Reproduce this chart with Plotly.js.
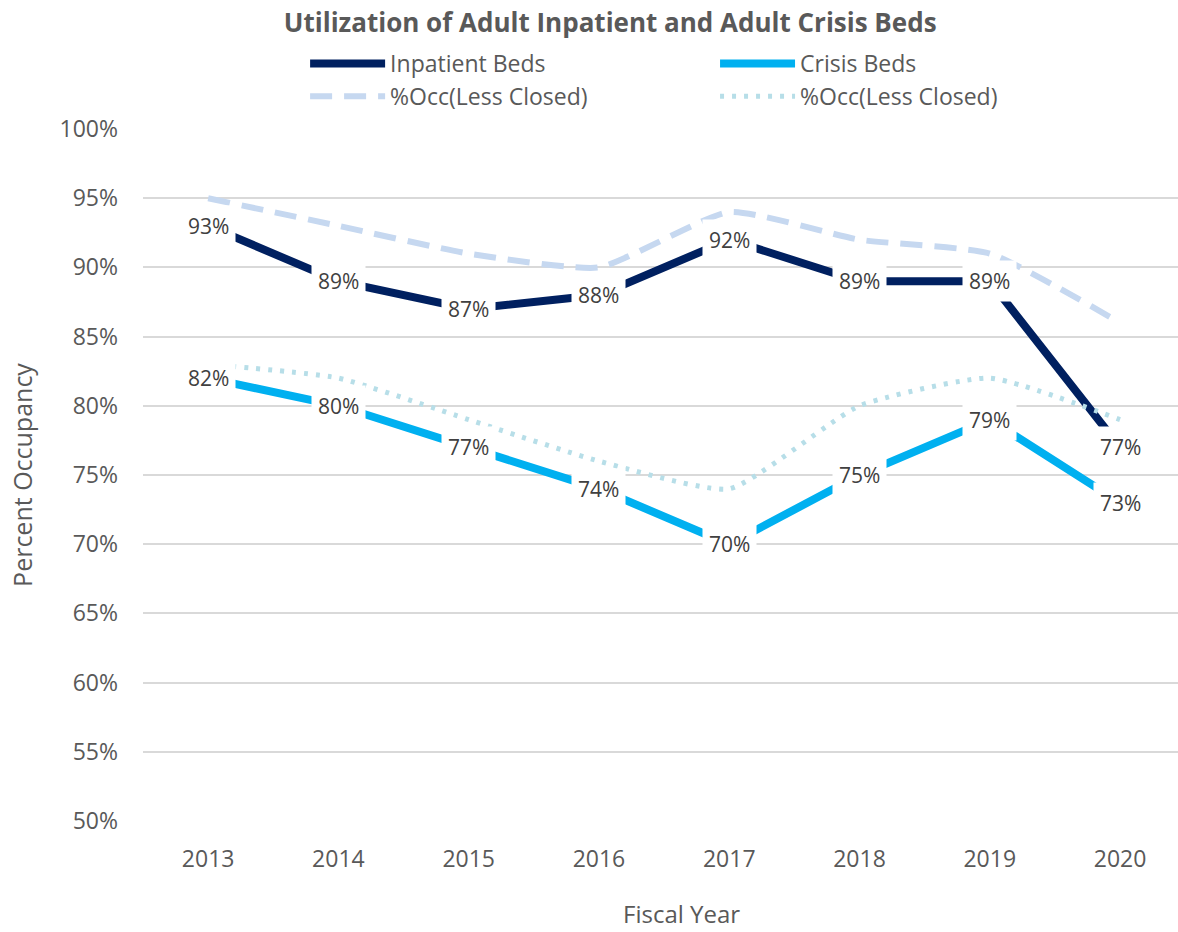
<!DOCTYPE html>
<html>
<head>
<meta charset="utf-8">
<script src="https://cdn.plot.ly/plotly-3.0.1.min.js"></script>
<style>html,body{margin:0;padding:0;background:#fff;}#chart{width:1178px;height:932px;}</style>
</head>
<body>
<div id="chart"></div>
<script>
const years = ["2013","2014","2015","2016","2017","2018","2019","2020"];
const inpatientBeds = [93, 89, 87, 88, 92, 89, 89, 77];
const inpatientOccLessClosed = [95, 93, 91, 90, 94, 92, 91, 86];
const crisisBeds = [82, 80, 77, 74, 70, 75, 79, 73];
const crisisOccLessClosed = [83, 82, 79, 76, 74, 80, 82, 79];
const yTicks = [50, 55, 60, 65, 70, 75, 80, 85, 90, 95, 100];
const xTitle = "Fiscal Year";
const yTitle = "Percent Occupancy";

const FONT = "Open Sans, Noto Sans, sans-serif";

const traces = [
  {x: years, y: inpatientBeds, name: "Inpatient Beds", type: "scatter", mode: "lines",
   legend: "legend", line: {color: "#002060", width: 8}},
  {x: years, y: crisisBeds, name: "Crisis Beds", type: "scatter", mode: "lines",
   legend: "legend2", line: {color: "#00B0F0", width: 8}},
  {x: years, y: inpatientOccLessClosed, name: "%Occ(Less Closed)", type: "scatter", mode: "lines",
   legend: "legend", line: {color: "#C6D8F0", width: 6, dash: "22px,12px", shape: "spline", smoothing: 0.5}},
  {x: years, y: crisisOccLessClosed, name: "%Occ(Less Closed)", type: "scatter", mode: "lines",
   legend: "legend2", line: {color: "#B7DEE8", width: 5, dash: "4px,8px", shape: "spline", smoothing: 0.5}}
];

const annotations = [];
[inpatientBeds, crisisBeds].forEach(series => {
  series.forEach((v, i) => {
    annotations.push({x: i, y: v, xref: "x", yref: "y", text: v + "%", showarrow: false,
      bgcolor: "#ffffff", borderpad: 6, font: {family: FONT, size: 21, color: "#404040"}});
  });
});
// axis titles
annotations.push({text: yTitle, xref: "paper", yref: "paper", x: -0.117, y: 0.5, xanchor: "center", yanchor: "middle",
  textangle: -90, showarrow: false, font: {family: FONT, size: 25, color: "#595959"}});
annotations.push({text: xTitle, xref: "paper", yref: "paper", x: 0.52, y: -0.133, xanchor: "center", yanchor: "middle",
  showarrow: false, font: {family: FONT, size: 24, color: "#595959"}});

const legendBase = {orientation: "v", xref: "container", yref: "container", xanchor: "left", yanchor: "top",
  y: 0.955, itemwidth: 75, traceorder: "normal", bgcolor: "rgba(0,0,0,0)", borderwidth: 0,
  font: {family: FONT, size: 23, color: "#595959"}};

const layout = {
  width: 1178, height: 932,
  margin: {l: 143, r: 0, t: 129, b: 111, autoexpand: false},
  paper_bgcolor: "#ffffff", plot_bgcolor: "#ffffff",
  font: {family: FONT, color: "#595959"},
  title: {text: "<b>Utilization of Adult Inpatient and Adult Crisis Beds</b>", x: 0.518, xanchor: "center",
          y: 0.975, yanchor: "middle", font: {family: FONT, size: 26, color: "#595959"}},
  showlegend: true,
  legend: Object.assign({}, legendBase, {x: 0.259}),
  legend2: Object.assign({}, legendBase, {x: 0.607}),
  xaxis: {type: "category", range: [-0.5, 7.445], showgrid: false, zeroline: false, showline: false,
          automargin: false, tickangle: 0,
          ticks: "", tickfont: {family: FONT, size: 23, color: "#595959"}, ticklabelstandoff: 22},
  yaxis: {range: [50, 100], tickvals: yTicks, ticktext: yTicks.map(v => v + "%"), automargin: false,
          showgrid: true, gridcolor: "#D9D9D9", gridwidth: 1.5, zeroline: false, showline: false,
          ticks: "", tickfont: {family: FONT, size: 23, color: "#595959"}, ticklabelstandoff: 24},
  annotations: annotations
};

Plotly.newPlot("chart", traces, layout, {displayModeBar: false, responsive: false});
</script>
</body>
</html>
